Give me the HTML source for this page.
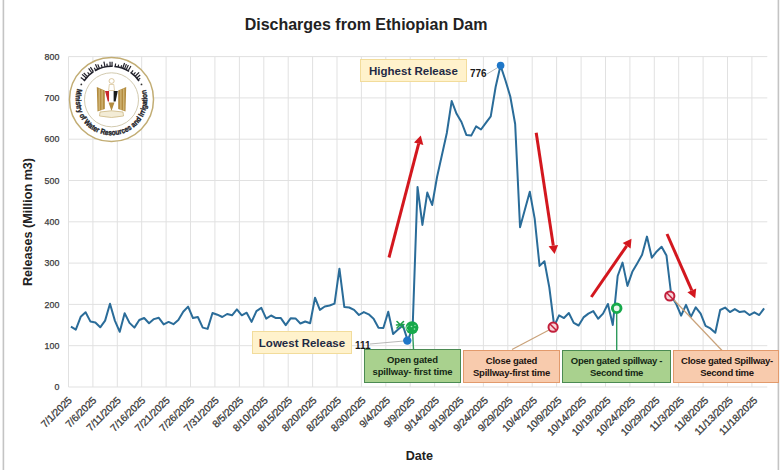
<!DOCTYPE html>
<html><head><meta charset="utf-8"><style>
html,body{margin:0;padding:0;background:#fff;}
body{width:780px;height:470px;overflow:hidden;position:relative;font-family:"Liberation Sans",sans-serif;}
svg{position:absolute;left:0;top:0;}
.box{position:absolute;box-sizing:border-box;display:flex;align-items:center;justify-content:center;text-align:center;font-weight:bold;}
</style></head><body>
<svg width="780" height="470" viewBox="0 0 780 470" font-family="Liberation Sans, sans-serif">

<line x1="3.4" y1="0" x2="3.4" y2="470" stroke="#c4c4c4" stroke-width="1.6"/><line x1="778.4" y1="0" x2="778.4" y2="470" stroke="#c4c4c4" stroke-width="1.6"/>
<text x="366" y="30" text-anchor="middle" font-size="16" font-weight="bold" fill="#222">Discharges from Ethiopian Dam</text>
<g stroke="#e1e1e1" stroke-width="1"><line x1="68.5" y1="387.0" x2="767.3" y2="387.0"/><line x1="68.5" y1="345.7" x2="767.3" y2="345.7"/><line x1="68.5" y1="304.4" x2="767.3" y2="304.4"/><line x1="68.5" y1="263.1" x2="767.3" y2="263.1"/><line x1="68.5" y1="221.8" x2="767.3" y2="221.8"/><line x1="68.5" y1="180.5" x2="767.3" y2="180.5"/><line x1="68.5" y1="139.2" x2="767.3" y2="139.2"/><line x1="68.5" y1="97.9" x2="767.3" y2="97.9"/><line x1="68.5" y1="56.6" x2="767.3" y2="56.6"/><line x1="68.5" y1="56.6" x2="68.5" y2="387.0"/><line x1="92.9" y1="56.6" x2="92.9" y2="387.0"/><line x1="117.3" y1="56.6" x2="117.3" y2="387.0"/><line x1="141.7" y1="56.6" x2="141.7" y2="387.0"/><line x1="166.1" y1="56.6" x2="166.1" y2="387.0"/><line x1="190.5" y1="56.6" x2="190.5" y2="387.0"/><line x1="214.9" y1="56.6" x2="214.9" y2="387.0"/><line x1="239.4" y1="56.6" x2="239.4" y2="387.0"/><line x1="263.8" y1="56.6" x2="263.8" y2="387.0"/><line x1="288.2" y1="56.6" x2="288.2" y2="387.0"/><line x1="312.6" y1="56.6" x2="312.6" y2="387.0"/><line x1="337.0" y1="56.6" x2="337.0" y2="387.0"/><line x1="361.4" y1="56.6" x2="361.4" y2="387.0"/><line x1="385.8" y1="56.6" x2="385.8" y2="387.0"/><line x1="410.2" y1="56.6" x2="410.2" y2="387.0"/><line x1="434.6" y1="56.6" x2="434.6" y2="387.0"/><line x1="459.0" y1="56.6" x2="459.0" y2="387.0"/><line x1="483.4" y1="56.6" x2="483.4" y2="387.0"/><line x1="507.8" y1="56.6" x2="507.8" y2="387.0"/><line x1="532.2" y1="56.6" x2="532.2" y2="387.0"/><line x1="556.6" y1="56.6" x2="556.6" y2="387.0"/><line x1="581.1" y1="56.6" x2="581.1" y2="387.0"/><line x1="605.5" y1="56.6" x2="605.5" y2="387.0"/><line x1="629.9" y1="56.6" x2="629.9" y2="387.0"/><line x1="654.3" y1="56.6" x2="654.3" y2="387.0"/><line x1="678.7" y1="56.6" x2="678.7" y2="387.0"/><line x1="703.1" y1="56.6" x2="703.1" y2="387.0"/><line x1="727.5" y1="56.6" x2="727.5" y2="387.0"/><line x1="751.9" y1="56.6" x2="751.9" y2="387.0"/></g>
<text x="59.3" y="390.1" text-anchor="end" font-size="8.8" fill="#3a3a3a" stroke="#3a3a3a" stroke-width="0.25">0</text>
<text x="59.3" y="348.8" text-anchor="end" font-size="8.8" fill="#3a3a3a" stroke="#3a3a3a" stroke-width="0.25">100</text>
<text x="59.3" y="307.5" text-anchor="end" font-size="8.8" fill="#3a3a3a" stroke="#3a3a3a" stroke-width="0.25">200</text>
<text x="59.3" y="266.2" text-anchor="end" font-size="8.8" fill="#3a3a3a" stroke="#3a3a3a" stroke-width="0.25">300</text>
<text x="59.3" y="224.9" text-anchor="end" font-size="8.8" fill="#3a3a3a" stroke="#3a3a3a" stroke-width="0.25">400</text>
<text x="59.3" y="183.6" text-anchor="end" font-size="8.8" fill="#3a3a3a" stroke="#3a3a3a" stroke-width="0.25">500</text>
<text x="59.3" y="142.3" text-anchor="end" font-size="8.8" fill="#3a3a3a" stroke="#3a3a3a" stroke-width="0.25">600</text>
<text x="59.3" y="101.0" text-anchor="end" font-size="8.8" fill="#3a3a3a" stroke="#3a3a3a" stroke-width="0.25">700</text>
<text x="59.3" y="59.7" text-anchor="end" font-size="8.8" fill="#3a3a3a" stroke="#3a3a3a" stroke-width="0.25">800</text>
<text transform="translate(32.3,222) rotate(-90)" text-anchor="middle" font-size="12.6" font-weight="bold" fill="#222">Releases (Million m3)</text>
<text x="419.3" y="460" text-anchor="middle" font-size="12.6" font-weight="bold" fill="#222">Date</text>
<text transform="translate(72.5,401) rotate(-45)" text-anchor="end" font-size="10.2" fill="#383838" stroke="#383838" stroke-width="0.28" letter-spacing="-0.12">7/1/2025</text>
<text transform="translate(97.0,401) rotate(-45)" text-anchor="end" font-size="10.2" fill="#383838" stroke="#383838" stroke-width="0.28" letter-spacing="-0.12">7/6/2025</text>
<text transform="translate(121.5,401) rotate(-45)" text-anchor="end" font-size="10.2" fill="#383838" stroke="#383838" stroke-width="0.28" letter-spacing="-0.12">7/11/2025</text>
<text transform="translate(145.9,401) rotate(-45)" text-anchor="end" font-size="10.2" fill="#383838" stroke="#383838" stroke-width="0.28" letter-spacing="-0.12">7/16/2025</text>
<text transform="translate(170.4,401) rotate(-45)" text-anchor="end" font-size="10.2" fill="#383838" stroke="#383838" stroke-width="0.28" letter-spacing="-0.12">7/21/2025</text>
<text transform="translate(194.9,401) rotate(-45)" text-anchor="end" font-size="10.2" fill="#383838" stroke="#383838" stroke-width="0.28" letter-spacing="-0.12">7/26/2025</text>
<text transform="translate(219.4,401) rotate(-45)" text-anchor="end" font-size="10.2" fill="#383838" stroke="#383838" stroke-width="0.28" letter-spacing="-0.12">7/31/2025</text>
<text transform="translate(243.9,401) rotate(-45)" text-anchor="end" font-size="10.2" fill="#383838" stroke="#383838" stroke-width="0.28" letter-spacing="-0.12">8/5/2025</text>
<text transform="translate(268.4,401) rotate(-45)" text-anchor="end" font-size="10.2" fill="#383838" stroke="#383838" stroke-width="0.28" letter-spacing="-0.12">8/10/2025</text>
<text transform="translate(292.8,401) rotate(-45)" text-anchor="end" font-size="10.2" fill="#383838" stroke="#383838" stroke-width="0.28" letter-spacing="-0.12">8/15/2025</text>
<text transform="translate(317.3,401) rotate(-45)" text-anchor="end" font-size="10.2" fill="#383838" stroke="#383838" stroke-width="0.28" letter-spacing="-0.12">8/20/2025</text>
<text transform="translate(341.8,401) rotate(-45)" text-anchor="end" font-size="10.2" fill="#383838" stroke="#383838" stroke-width="0.28" letter-spacing="-0.12">8/25/2025</text>
<text transform="translate(366.3,401) rotate(-45)" text-anchor="end" font-size="10.2" fill="#383838" stroke="#383838" stroke-width="0.28" letter-spacing="-0.12">8/30/2025</text>
<text transform="translate(390.8,401) rotate(-45)" text-anchor="end" font-size="10.2" fill="#383838" stroke="#383838" stroke-width="0.28" letter-spacing="-0.12">9/4/2025</text>
<text transform="translate(415.3,401) rotate(-45)" text-anchor="end" font-size="10.2" fill="#383838" stroke="#383838" stroke-width="0.28" letter-spacing="-0.12">9/9/2025</text>
<text transform="translate(439.7,401) rotate(-45)" text-anchor="end" font-size="10.2" fill="#383838" stroke="#383838" stroke-width="0.28" letter-spacing="-0.12">9/14/2025</text>
<text transform="translate(464.2,401) rotate(-45)" text-anchor="end" font-size="10.2" fill="#383838" stroke="#383838" stroke-width="0.28" letter-spacing="-0.12">9/19/2025</text>
<text transform="translate(488.7,401) rotate(-45)" text-anchor="end" font-size="10.2" fill="#383838" stroke="#383838" stroke-width="0.28" letter-spacing="-0.12">9/24/2025</text>
<text transform="translate(513.2,401) rotate(-45)" text-anchor="end" font-size="10.2" fill="#383838" stroke="#383838" stroke-width="0.28" letter-spacing="-0.12">9/29/2025</text>
<text transform="translate(537.7,401) rotate(-45)" text-anchor="end" font-size="10.2" fill="#383838" stroke="#383838" stroke-width="0.28" letter-spacing="-0.12">10/4/2025</text>
<text transform="translate(562.1,401) rotate(-45)" text-anchor="end" font-size="10.2" fill="#383838" stroke="#383838" stroke-width="0.28" letter-spacing="-0.12">10/9/2025</text>
<text transform="translate(586.6,401) rotate(-45)" text-anchor="end" font-size="10.2" fill="#383838" stroke="#383838" stroke-width="0.28" letter-spacing="-0.12">10/14/2025</text>
<text transform="translate(611.1,401) rotate(-45)" text-anchor="end" font-size="10.2" fill="#383838" stroke="#383838" stroke-width="0.28" letter-spacing="-0.12">10/19/2025</text>
<text transform="translate(635.6,401) rotate(-45)" text-anchor="end" font-size="10.2" fill="#383838" stroke="#383838" stroke-width="0.28" letter-spacing="-0.12">10/24/2025</text>
<text transform="translate(660.1,401) rotate(-45)" text-anchor="end" font-size="10.2" fill="#383838" stroke="#383838" stroke-width="0.28" letter-spacing="-0.12">10/29/2025</text>
<text transform="translate(684.6,401) rotate(-45)" text-anchor="end" font-size="10.2" fill="#383838" stroke="#383838" stroke-width="0.28" letter-spacing="-0.12">11/3/2025</text>
<text transform="translate(709.0,401) rotate(-45)" text-anchor="end" font-size="10.2" fill="#383838" stroke="#383838" stroke-width="0.28" letter-spacing="-0.12">11/8/2025</text>
<text transform="translate(733.5,401) rotate(-45)" text-anchor="end" font-size="10.2" fill="#383838" stroke="#383838" stroke-width="0.28" letter-spacing="-0.12">11/13/2025</text>
<text transform="translate(758.0,401) rotate(-45)" text-anchor="end" font-size="10.2" fill="#383838" stroke="#383838" stroke-width="0.28" letter-spacing="-0.12">11/18/2025</text>
<g>
<circle cx="111.5" cy="99.5" r="42" fill="#fff" stroke="#c2ad74" stroke-width="1.5"/>
<circle cx="111.5" cy="99.8" r="27" fill="#fff" stroke="#cdc4a6" stroke-width="0.9"/>
<defs><path id="arcB" d="M 77.36 88.73 A 35.8 35.8 0 1 0 145.64 88.73"/></defs>
<text font-size="7.6" font-weight="bold" fill="#1e1e28" stroke="#1e1e28" stroke-width="0.35"><textPath href="#arcB" textLength="133" lengthAdjust="spacingAndGlyphs">Ministry of Water Resources and Irrigation</textPath></text>
<path d="M83.98 80.93 A33.2 33.2 0 0 1 93.42 71.66" fill="none" stroke="#22222c" stroke-width="1.6"/><line x1="84.47" y1="80.22" x2="80.81" y2="77.61" stroke="#22222c" stroke-width="1.2"/><line x1="86.25" y1="77.94" x2="82.07" y2="74.37" stroke="#22222c" stroke-width="1.2"/><line x1="87.50" y1="76.56" x2="83.74" y2="72.97" stroke="#22222c" stroke-width="1.2"/><line x1="89.59" y1="74.56" x2="87.61" y2="72.30" stroke="#22222c" stroke-width="1.2"/><line x1="91.85" y1="72.74" x2="88.59" y2="68.31" stroke="#22222c" stroke-width="1.2"/><line x1="93.37" y1="71.69" x2="90.37" y2="67.08" stroke="#22222c" stroke-width="1.2"/><path d="M94.90 70.75 A33.2 33.2 0 0 1 112.66 66.32" fill="none" stroke="#22222c" stroke-width="1.6"/><line x1="95.66" y1="70.32" x2="94.23" y2="67.69" stroke="#22222c" stroke-width="1.2"/><line x1="97.73" y1="69.29" x2="95.45" y2="64.28" stroke="#22222c" stroke-width="1.2"/><line x1="99.44" y1="68.57" x2="97.81" y2="64.38" stroke="#22222c" stroke-width="1.2"/><line x1="102.18" y1="67.63" x2="101.34" y2="64.76" stroke="#22222c" stroke-width="1.2"/><line x1="104.99" y1="66.94" x2="103.92" y2="61.55" stroke="#22222c" stroke-width="1.2"/><line x1="107.28" y1="66.57" x2="106.90" y2="63.59" stroke="#22222c" stroke-width="1.2"/><line x1="110.17" y1="66.33" x2="109.99" y2="61.83" stroke="#22222c" stroke-width="1.2"/><line x1="112.02" y1="66.30" x2="112.09" y2="61.80" stroke="#22222c" stroke-width="1.2"/><path d="M114.39 66.43 A33.2 33.2 0 0 1 129.09 71.34" fill="none" stroke="#22222c" stroke-width="1.6"/><line x1="115.26" y1="66.51" x2="115.60" y2="63.53" stroke="#22222c" stroke-width="1.2"/><line x1="118.12" y1="66.97" x2="118.62" y2="64.52" stroke="#22222c" stroke-width="1.2"/><line x1="120.93" y1="67.67" x2="121.64" y2="65.27" stroke="#22222c" stroke-width="1.2"/><line x1="122.69" y1="68.24" x2="124.55" y2="63.07" stroke="#22222c" stroke-width="1.2"/><line x1="124.42" y1="68.92" x2="126.44" y2="64.13" stroke="#22222c" stroke-width="1.2"/><line x1="126.11" y1="69.69" x2="128.39" y2="65.02" stroke="#22222c" stroke-width="1.2"/><line x1="128.15" y1="70.78" x2="130.91" y2="66.02" stroke="#22222c" stroke-width="1.2"/><path d="M130.54 72.30 A33.2 33.2 0 0 1 139.02 80.93" fill="none" stroke="#22222c" stroke-width="1.6"/><line x1="131.25" y1="72.81" x2="133.03" y2="70.40" stroke="#22222c" stroke-width="1.2"/><line x1="133.50" y1="74.63" x2="135.49" y2="72.39" stroke="#22222c" stroke-width="1.2"/><line x1="135.18" y1="76.23" x2="139.10" y2="72.37" stroke="#22222c" stroke-width="1.2"/><line x1="136.75" y1="77.94" x2="140.17" y2="75.02" stroke="#22222c" stroke-width="1.2"/><line x1="138.19" y1="79.75" x2="140.20" y2="78.26" stroke="#22222c" stroke-width="1.2"/>
<circle cx="81.3" cy="84.4" r="0.9" fill="#333"/><circle cx="141.5" cy="84.4" r="0.9" fill="#333"/>
<g fill="#b38c40">
<path d="M96.8 87 L104.8 90.5 L104.8 109 L97.5 111.5 Z"/>
<path d="M126.2 87 L118.2 90.5 L118.2 109 L125.5 111.5 Z"/>
</g>
<g stroke="#e6d29a" stroke-width="0.8"><line x1="99.2" y1="88.5" x2="99.2" y2="110.5"/><line x1="102.1" y1="89.5" x2="102.1" y2="110"/><line x1="123.8" y1="88.5" x2="123.8" y2="110.5"/><line x1="120.9" y1="89.5" x2="120.9" y2="110"/></g>
<path d="M105 91 L109.2 91 L109.2 101.5 L107.8 101.5 Z" fill="#c8282e"/>
<rect x="109.2" y="91" width="4.4" height="11" fill="#fff"/>
<path d="M113.6 91 L117.8 91 L115.6 101.5 L113.6 101.5 Z" fill="#1a1a1a"/>
<path d="M108.5 102.5 L114.5 102.5 L111.5 111 Z" fill="#b38c40"/>
<path d="M109.3 84.5 L113.8 84.5 L114.5 90.5 L108.6 90.5 Z" fill="#fff" stroke="#cdb27a" stroke-width="0.6"/>
<ellipse cx="111.6" cy="81" rx="2.6" ry="2.4" fill="#fff" stroke="#cdb27a" stroke-width="0.7"/>
<path d="M100 112 Q111.5 109.5 123 112 L123.5 116 Q111.5 119 99.5 116 Z" fill="#f3ecd6" stroke="#c9b27a" stroke-width="0.7"/>
</g>
<polyline points="70.94,326.7 75.82,329.6 80.70,316.8 85.59,312.3 90.47,321.6 95.35,322.5 100.23,327.3 105.11,320.6 109.99,303.8 114.87,320.6 119.76,331.8 124.64,313.2 129.52,322.9 134.40,327.6 139.28,320.0 144.16,318.0 149.04,323.2 153.93,319.1 158.81,317.8 163.69,324.4 168.57,321.9 173.45,324.2 178.33,320.0 183.22,311.7 188.10,306.6 192.98,318.1 197.86,317.0 202.74,327.6 207.62,328.9 212.50,313.0 217.39,314.7 222.27,317.0 227.15,314.0 232.03,315.3 236.91,309.4 241.79,315.3 246.67,312.7 251.56,321.9 256.44,311.1 261.32,307.9 266.20,318.7 271.08,315.5 275.96,318.1 280.85,318.1 285.73,325.1 290.61,318.3 295.49,318.4 300.37,323.5 305.25,321.5 310.13,323.2 315.02,297.7 319.90,309.9 324.78,306.5 329.66,305.5 334.54,303.6 339.42,268.7 344.30,307.0 349.19,307.5 354.07,309.9 358.95,315.0 363.83,312.1 368.71,314.3 373.59,318.7 378.48,327.7 383.36,328.0 388.24,311.7 393.12,334.0 398.00,329.5 402.88,325.5 407.76,340.6 412.65,327.5 417.53,187.0 422.41,224.9 427.29,192.6 432.17,205.0 437.05,177.0 441.93,155.0 446.82,133.0 451.70,101.0 456.58,113.8 461.46,122.0 466.34,134.9 471.22,135.6 476.11,126.4 480.99,129.5 485.87,122.8 490.75,116.4 495.63,87.0 500.51,65.5 505.39,80.3 510.28,96.5 515.16,124.0 520.04,227.3 524.92,209.5 529.80,191.8 534.68,218.6 539.56,265.9 544.45,261.2 549.33,287.5 554.21,326.0 559.09,315.3 563.97,318.0 568.85,313.0 573.74,322.9 578.62,325.5 583.50,317.4 588.38,313.6 593.26,311.1 598.14,318.7 603.02,313.6 607.91,304.0 612.79,325.0 617.67,276.0 622.55,262.6 627.43,285.9 632.31,271.8 637.19,263.5 642.08,254.8 646.96,236.6 651.84,257.7 656.72,251.4 661.60,246.8 666.48,255.6 671.37,296.0 676.25,304.0 681.13,315.6 686.01,304.8 690.89,316.9 695.77,307.3 700.65,313.7 705.54,325.9 710.42,328.4 715.30,332.8 720.18,310.0 725.06,307.6 729.94,312.1 734.82,309.1 739.71,312.1 744.59,311.3 749.47,315.0 754.35,312.3 759.23,315.0 764.11,308.3" fill="none" stroke="#2a6c99" stroke-width="2.0" stroke-linejoin="round"/>
<line x1="370" y1="344" x2="404" y2="341" stroke="#a6a6a6" stroke-width="0.8"/>
<line x1="487" y1="74" x2="497" y2="68" stroke="#a6a6a6" stroke-width="0.8"/>
<line x1="412.5" y1="330" x2="413.5" y2="349.5" stroke="#2f9a5c" stroke-width="1.4"/>
<line x1="616.7" y1="312" x2="616.7" y2="350.5" stroke="#2f9a5c" stroke-width="1.4"/>
<line x1="549" y1="330" x2="512" y2="349.5" stroke="#c9a27a" stroke-width="1.2"/>
<line x1="674" y1="300" x2="722" y2="350.5" stroke="#c9a27a" stroke-width="1.2"/>
<circle cx="500.6" cy="65.6" r="3.8" fill="#1f77c8"/>
<circle cx="407.3" cy="340.6" r="4.2" fill="#1f77c8"/>
<g stroke="#1c9e4a" stroke-width="1.6" stroke-linecap="round"><line x1="397" y1="321.5" x2="403.5" y2="328"/><line x1="403.5" y1="321.5" x2="397" y2="328"/><line x1="396.5" y1="325" x2="404" y2="324.5"/></g>
<circle cx="412" cy="327.6" r="6.4" fill="#17a94b"/>
<g fill="none" stroke="#9fe8b4" stroke-width="1"><polyline points="408,325.5 405.8,328 408,330.5"/></g><circle cx="411.5" cy="326.5" r="0.8" fill="#9fe8b4"/><circle cx="414.5" cy="329" r="0.8" fill="#9fe8b4"/><circle cx="415" cy="325.5" r="0.7" fill="#9fe8b4"/>
<circle cx="616.7" cy="308.3" r="4.3" fill="#e9f7ee" stroke="#17a94b" stroke-width="2.9"/>
<circle cx="553.1" cy="327.2" r="4.6" fill="#f8d5da" stroke="#c21f3b" stroke-width="2"/><line x1="550" y1="324" x2="556" y2="330" stroke="#c21f3b" stroke-width="1.5"/>
<circle cx="669.8" cy="296" r="4.6" fill="#f8d5da" stroke="#c21f3b" stroke-width="2"/><line x1="666.7" y1="292.8" x2="673" y2="299.2" stroke="#c21f3b" stroke-width="1.5"/>
<line x1="389" y1="257.5" x2="418.7" y2="143.7" stroke="#d3171e" stroke-width="3.0"/><polygon points="420.8,135.5 423.3,144.9 414.0,142.5" fill="#d3171e"/>
<line x1="536.2" y1="132.8" x2="553.3" y2="245.6" stroke="#d3171e" stroke-width="3.0"/><polygon points="554.6,254 548.6,246.3 558.1,244.9" fill="#d3171e"/>
<line x1="591.3" y1="297" x2="626.7" y2="245.8" stroke="#d3171e" stroke-width="3.0"/><polygon points="631.5,238.8 630.6,248.5 622.7,243.1" fill="#d3171e"/>
<line x1="667" y1="234" x2="691.8" y2="290.4" stroke="#d3171e" stroke-width="3.0"/><polygon points="695.2,298.2 687.4,292.3 696.2,288.5" fill="#d3171e"/>
<text x="470" y="77" font-size="10" font-weight="bold" fill="#1a1a1a">776</text>
<text x="355" y="348.5" font-size="10" font-weight="bold" fill="#1a1a1a">111</text>
</svg>
<div class="box" style="left:360px;top:59px;width:107px;height:23px;background:#fff2cc;border:1px solid #f2dc9b;color:#1f2a44;font-size:11.5px;">Highest Release</div>
<div class="box" style="left:252px;top:331px;width:100px;height:23px;background:#fff2cc;border:1px solid #f2dc9b;color:#1f2a44;font-size:11.5px;">Lowest Release</div>
<div class="box" style="left:364px;top:349px;width:97px;height:34px;background:#a9d18e;border:1.6px solid #4b8a52;color:#142814;font-size:9.5px;line-height:12px;letter-spacing:-0.15px;">Open gated<br>spillway- first time</div>
<div class="box" style="left:463px;top:350px;width:97px;height:33px;background:#f8cbad;border:1.6px solid #e29a6c;color:#221410;font-size:9.5px;line-height:12px;letter-spacing:-0.22px;">Close gated<br>Spillway-first time</div>
<div class="box" style="left:562px;top:350px;width:109px;height:33px;background:#a9d18e;border:1.6px solid #4b8a52;color:#142814;font-size:9.5px;line-height:12px;letter-spacing:-0.3px;">Open gated spillway -<br>Second time</div>
<div class="box" style="left:673px;top:350px;width:106px;height:33px;background:#f8cbad;border:1.6px solid #e29a6c;color:#221410;font-size:9.5px;line-height:12px;letter-spacing:-0.28px;padding-left:2px;">Close gated Spillway-<br>Second time</div>
</body></html>
